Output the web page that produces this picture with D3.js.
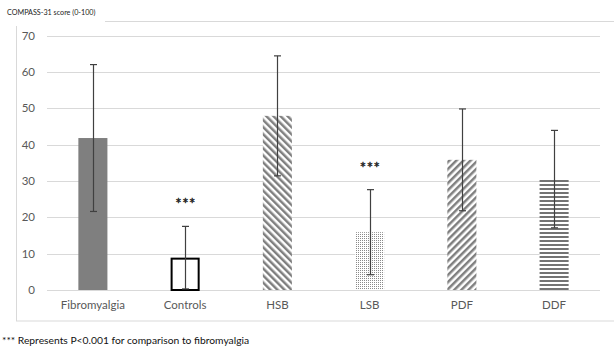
<!DOCTYPE html>
<html><head><meta charset="utf-8">
<script src="https://cdn.jsdelivr.net/npm/d3@7"></script>
<style>body{margin:0;background:#fff}svg{display:block}text{font-family:Lato,"Open Sans",sans-serif}</style>
</head><body><svg id="c" width="614" height="347"></svg>
<script>
const categories = ["Fibromyalgia","Controls","HSB","LSB","PDF","DDF"];
const means = [41.8, 8.9, 47.9, 15.9, 35.8, 30.5];
const sds = [20.2, 8.6, 16.5, 11.7, 14.0, 13.4];
const significant = [false, true, false, true, false, false];
const yTicks = [0,10,20,30,40,50,60,70];
const patterns = ["solid","outline","backslash","dots","slash","hstripes"];

const svg = d3.select("#c");
const W = 614, H = 347;
const m = {left:47, right:14, top:35.5, bottom:57};
const x = d3.scaleBand().domain(categories).range([m.left, W - m.right]).paddingInner(0.685).paddingOuter(0.34);
const y = d3.scaleLinear().domain([0,70]).range([290, 35.5]);

const defs = svg.append("defs");
const grey = "#7f7f7f";
function stripe(id, angle, size, lw){
  const p = defs.append("pattern").attr("id",id).attr("patternUnits","userSpaceOnUse")
    .attr("width",size).attr("height",size).attr("patternTransform",`rotate(${angle})`);
  p.append("rect").attr("width",size).attr("height",size).attr("fill","#fff");
  p.append("rect").attr("width",lw).attr("height",size).attr("fill",grey);
}
stripe("backslash", -45, 5, 2.5);
stripe("slash", 45, 5, 2.5);
const hs = defs.append("pattern").attr("id","hstripes").attr("patternUnits","userSpaceOnUse").attr("width",4).attr("height",4);
hs.append("rect").attr("width",4).attr("height",4).attr("fill","#fff");
hs.append("rect").attr("width",4).attr("height",2).attr("fill","#737373");
const dp = defs.append("pattern").attr("id","dots").attr("patternUnits","userSpaceOnUse").attr("width",2).attr("height",2);
dp.append("rect").attr("width",2).attr("height",2).attr("fill","#fff");
dp.append("rect").attr("width",1).attr("height",1).attr("fill","#8a8a8a");

// chart border
svg.append("rect").attr("x",16.5).attr("y",21.5).attr("width",620).attr("height",299.5)
  .attr("fill","none").attr("stroke","#d9d9d9");
// title
svg.append("rect").attr("x",0).attr("y",8).attr("width",105).attr("height",18).attr("fill","#fff");
svg.append("text").attr("x",7).attr("y",14.5).attr("font-size",7.2).attr("fill","#222").text("COMPASS-31 score (0-100)");

// grid
svg.append("g").selectAll("line").data(yTicks).join("line")
  .attr("x1",m.left).attr("x2",600).attr("y1",d=>Math.round(y(d))+0.5).attr("y2",d=>Math.round(y(d))+0.5)
  .attr("stroke","#d9d9d9");

// y axis labels
const ya = svg.append("g").attr("transform",`translate(${m.left},0)`)
  .call(d3.axisLeft(y).tickValues(yTicks).tickSize(0).tickPadding(12));
ya.select(".domain").remove();
ya.selectAll("text").attr("font-size",11.5).attr("fill","#595959").attr("font-family","Lato,sans-serif");

// x axis labels
const xa = svg.append("g").attr("transform",`translate(0,290)`)
  .call(d3.axisBottom(x).tickSize(0).tickPadding(11));
xa.select(".domain").remove();
xa.selectAll("text").attr("font-size",11.5).attr("fill","#595959").attr("font-family","Lato,sans-serif");

// bars
const bw = x.bandwidth();
svg.append("g").selectAll("rect").data(categories).join("rect")
  .attr("x",(d,i)=> patterns[i]==="outline" ? x(d)+1 : x(d))
  .attr("y",(d,i)=> patterns[i]==="outline" ? y(means[i])+1 : y(means[i]))
  .attr("width",(d,i)=> patterns[i]==="outline" ? bw-2 : bw)
  .attr("height",(d,i)=> patterns[i]==="outline" ? y(0)-y(means[i])-1 : y(0)-y(means[i]))
  .attr("fill",(d,i)=> patterns[i]==="solid" ? grey : patterns[i]==="outline" ? "#fff" : `url(#${patterns[i]})`)
  .attr("stroke",(d,i)=> patterns[i]==="outline" ? "#000" : "none")
  .attr("stroke-width",2);

// error bars
const eg = svg.append("g").attr("stroke","#404040").attr("stroke-width",1.2);
categories.forEach((c,i)=>{
  const cx = Math.round(x(c)+bw/2)+0.5;
  const hi = y(means[i]+sds[i]), lo = y(Math.max(0, means[i]-sds[i]));
  eg.append("line").attr("x1",cx).attr("x2",cx).attr("y1",hi).attr("y2",lo);
  eg.append("line").attr("x1",cx-3.5).attr("x2",cx+3.5).attr("y1",hi).attr("y2",hi);
  if (means[i]-sds[i] > 0) eg.append("line").attr("x1",cx-3.5).attr("x2",cx+3.5).attr("y1",lo).attr("y2",lo);
});

// significance
svg.append("g").selectAll("text").data(categories.filter((c,i)=>significant[i])).join("text")
  .attr("x",d=>x(d)+bw/2+0.5).attr("y",d=>{const i=categories.indexOf(d);return y(means[i]+sds[i])-17;})
  .attr("text-anchor","middle").attr("font-size",15).attr("letter-spacing",0.5).attr("fill","#222")
  .attr("stroke","#222").attr("stroke-width",0.4)
  .attr("font-family","DejaVu Sans,sans-serif").text("***");

// footnote
svg.append("text").attr("x",2).attr("y",344).attr("font-size",10.3).attr("fill","#111")
  .text("*** Represents P<0.001 for comparison to fibromyalgia");
</script></body></html>
